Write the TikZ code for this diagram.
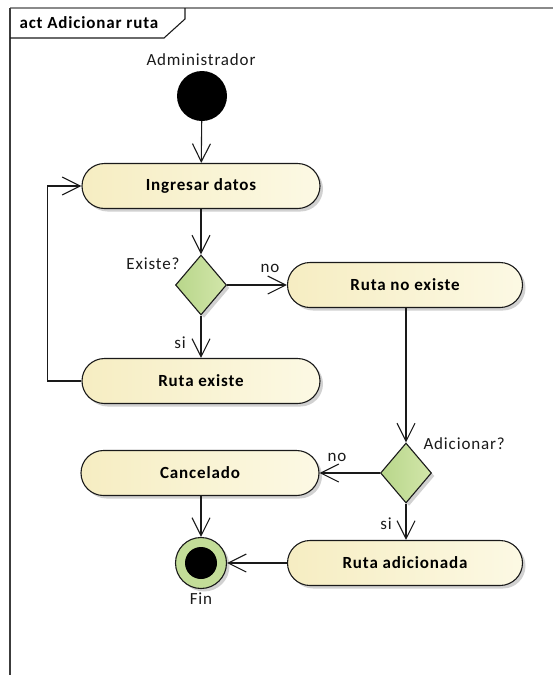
\documentclass[tikz,border=0pt]{standalone}
\usepackage{fontspec}
\setmainfont{Carlito}[LetterSpace=5]
\usepackage{tikz}
\usetikzlibrary{positioning, arrows.meta, shapes.geometric, shadows}
\definecolor{actLeft}{HTML}{F6EDC2}
\definecolor{actRight}{HTML}{FCF9E4}
\definecolor{decLeft}{HTML}{B8D68A}
\definecolor{decRight}{HTML}{D2E6AA}
\definecolor{endGreen}{HTML}{C3DD98}
\definecolor{frameGray}{HTML}{8A8A8A}
\definecolor{lineBlack}{HTML}{1A1A1A}

\begin{document}
\begin{tikzpicture}[x=1pt, y=-1pt,
    txt/.style={font=\fontsize{17}{20}\selectfont, color=lineBlack},
    activity/.style={rectangle, rounded corners=22.5pt, draw=lineBlack, line width=1.1pt,
      left color=actLeft, right color=actRight, minimum width=238pt, minimum height=45pt,
      font=\fontsize{17}{20}\selectfont\bfseries,
      drop shadow={shadow xshift=3pt, shadow yshift=-3pt, fill=black, opacity=0.18}},
    decision/.style={diamond, draw=lineBlack, line width=1.1pt, left color=decLeft, right color=decRight,
      minimum width=51pt, minimum height=60pt, inner sep=0pt,
      drop shadow={shadow xshift=3pt, shadow yshift=-3pt, fill=black, opacity=0.18}},
    flow/.style={draw=lineBlack, line width=1.1pt, -{Straight Barb[length=18pt, width=18pt, line width=1.1pt]}}]
  \useasboundingbox (0,0) rectangle (553,675);

  % frame and its title tab
  \draw[line width=1.2pt, color=frameGray] (10,8) -- (553,8);
  \draw[line width=1.4pt, color=lineBlack!85] (10,8) -- (10,675);
  \draw[line width=1.1pt, color=lineBlack] (10,38) -- (164,38) -- (185,19) -- (185,8);
  \node[font=\fontsize{17}{20}\selectfont\bfseries, anchor=west] (title) at (16,23) {act Adicionar ruta};

  % start
  \node[circle, fill=black, minimum size=50pt, inner sep=0pt] (start) at (202,96) {};
  \node[txt] (admin) at (201,60) {Administrador};

  % activities
  \node[activity] (ingresar) at (201,186) {Ingresar datos};
  \node[decision] (existe) at (201,285) {};
  \node[activity, minimum width=235pt] (noExiste) at (405,285) {Ruta no existe};
  \node[activity] (rutaExiste) at (201,381) {Ruta existe};
  \node[decision] (adicionar) at (406,473) {};
  \node[activity] (cancelado) at (200,473) {Cancelado};
  \node[activity, minimum width=235pt] (adicionada) at (405,563) {Ruta adicionada};

  % end
  \node[circle, draw=lineBlack, line width=1.1pt, fill=endGreen, minimum size=51pt, inner sep=0pt,
    drop shadow={shadow xshift=3pt, shadow yshift=-3pt, fill=black, opacity=0.18},
    path picture={\fill[black] (path picture bounding box.center) circle (16pt);}] (fin) at (201,563) {};
  \node[txt] (finLabel) at (201,599) {Fin};

  % guard labels
  \node[txt, anchor=east] (lblExiste) at (183,264) {Existe?};
  \node[txt] (lblNo1) at (270,268) {no};
  \node[txt] (lblSi1) at (180,343) {si};
  \node[txt, anchor=west] (lblAdicionar) at (420,444) {Adicionar?};
  \node[txt] (lblNo2) at (337,457) {no};
  \node[txt] (lblSi2) at (386,524) {si};

  % control flows
  \draw[flow] (start) -- (ingresar);
  \draw[flow] (ingresar) -- (existe);
  \draw[flow] (existe) -- (noExiste);
  \draw[flow] (existe) -- (rutaExiste);
  \draw[flow] (rutaExiste.west) -- ++(-34,0) |- (ingresar.west);
  \draw[flow] (noExiste.south -| adicionar.north) -- (adicionar.north);
  \draw[flow] (adicionar) -- (cancelado);
  \draw[flow] (adicionar.south) -- (adicionar.south |- adicionada.north);
  \draw[flow] (cancelado.south -| fin.north) -- (fin);
  \draw[flow] (adicionada) -- (fin);
\end{tikzpicture}
\end{document}
